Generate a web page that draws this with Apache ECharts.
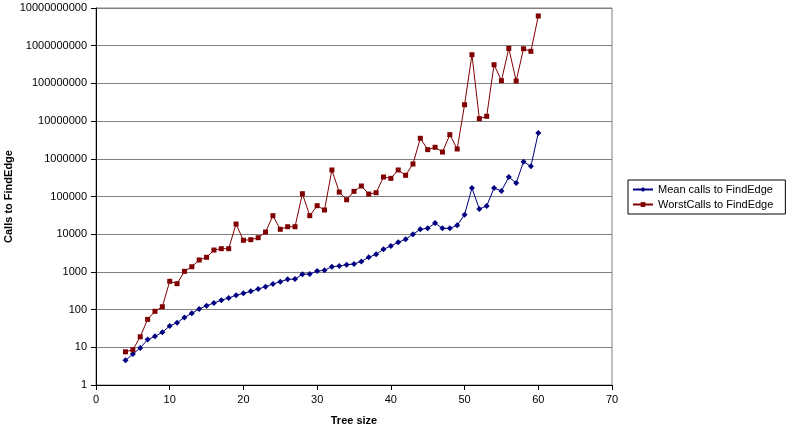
<!DOCTYPE html>
<html>
<head>
<meta charset="utf-8">
<script src="https://cdn.jsdelivr.net/npm/echarts@6/dist/echarts.min.js"></script>
<style>
html, body { margin: 0; padding: 0; background: #fff; }
#chart { width: 798px; height: 440px; }
</style>
</head>
<body>
<div id="chart"></div>
<script>
// tree sizes 4..60
const treeSize = [4, 5, 6, 7, 8, 9, 10, 11, 12, 13, 14, 15, 16, 17, 18, 19, 20, 21, 22, 23, 24, 25, 26, 27, 28, 29, 30, 31, 32,
  33, 34, 35, 36, 37, 38, 39, 40, 41, 42, 43, 44, 45, 46, 47, 48, 49, 50, 51, 52, 53, 54, 55, 56, 57, 58, 59, 60]
const meanCalls = [4.5, 6.6, 9.6, 16, 19.5, 25, 37, 45, 62, 80, 104, 127, 150, 177, 203, 240, 270, 305, 352, 405,
  478, 550, 635, 646, 863, 880, 1056, 1100, 1374, 1430, 1550, 1620, 1900, 2440, 2930, 3970, 4860, 6100, 7330, 9940,
  13500, 14300, 19800, 14300, 14300, 17200, 33000, 168000, 46600, 56000, 168000, 140000, 329000, 228000, 838000, 631000, 4830000]
const worstCalls = [7.6, 8.6, 19, 55, 90, 119, 563, 487, 1035, 1373, 2070, 2440, 3800, 4130, 4130, 18600, 6900, 7150, 8080, 11400,
  31000, 13500, 15800, 15800, 118600, 31000, 57000, 43800, 505000, 131000, 82000, 137000, 190000, 116000, 126000, 329000, 303000, 505000, 365000, 728000,
  3500000, 1750000, 2020000, 1510000, 4370000, 1820000, 27200000, 577000000, 11600000, 13400000, 313000000, 118000000, 850000000, 116000000, 830000000, 710000000, 6140000000]

const chart = echarts.init(document.getElementById('chart'))
const font = 'Liberation Sans, Arial, sans-serif'
const pairs = arr => arr.map((v, i) => [treeSize[i], v])

const option = {
  backgroundColor: '#fff',
  animation: false,
  textStyle: { fontFamily: font },
  grid: {
    left: 96, right: 186, top: 8, bottom: 55,
    outerBoundsMode: 'none',
    containLabel: false,
    show: true,
    borderColor: '#808080',
    borderWidth: 1
  },
  legend: {
    orient: 'vertical',
    left: 628, top: 180,
    data: ['Mean calls to FindEdge', 'WorstCalls to FindEdge'],
    borderColor: '#000',
    borderWidth: 1,
    padding: [4, 12, 4, 4],
    itemGap: 4,
    itemWidth: 20,
    itemHeight: 6,
    textStyle: { fontFamily: font, fontSize: 11, color: '#000' }
  },
  xAxis: {
    type: 'value',
    min: 0, max: 70, interval: 10,
    name: 'Tree size',
    nameLocation: 'middle',
    nameGap: 30,
    nameTextStyle: { fontFamily: font, fontSize: 11, fontWeight: 'bold', color: '#000' },
    axisLine: { lineStyle: { color: '#000', width: 1 } },
    axisTick: { show: true, length: 5, lineStyle: { color: '#000' } },
    axisLabel: { fontFamily: font, fontSize: 11, color: '#000', margin: 9 },
    splitLine: { show: false }
  },
  yAxis: {
    type: 'log',
    logBase: 10,
    min: 1, max: 10000000000,
    interval: 1,
    name: 'Calls to FindEdge',
    nameLocation: 'middle',
    nameGap: 82,
    nameMoveOverlap: false,
    nameTextStyle: { fontFamily: font, fontSize: 11, fontWeight: 'bold', color: '#000' },
    axisLine: { show: true, lineStyle: { color: '#000', width: 1 } },
    axisTick: { show: true, length: 5, lineStyle: { color: '#000' } },
    axisLabel: {
      fontFamily: font, fontSize: 11, color: '#000', margin: 9,
      formatter: v => String(Math.round(v))
    },
    splitLine: { show: true, lineStyle: { color: '#808080', width: 1 } }
  },
  series: [{
    name: 'Mean calls to FindEdge',
    type: 'line',
    data: pairs(meanCalls),
    symbol: 'diamond',
    symbolSize: 6,
    lineStyle: { color: '#000080', width: 1 },
    itemStyle: { color: '#000080' }
  }, {
    name: 'WorstCalls to FindEdge',
    type: 'line',
    data: pairs(worstCalls),
    symbol: 'rect',
    symbolSize: 5,
    lineStyle: { color: '#800000', width: 1 },
    itemStyle: { color: '#800000' }
  }]
}
chart.setOption(option)
</script>
</body>
</html>
